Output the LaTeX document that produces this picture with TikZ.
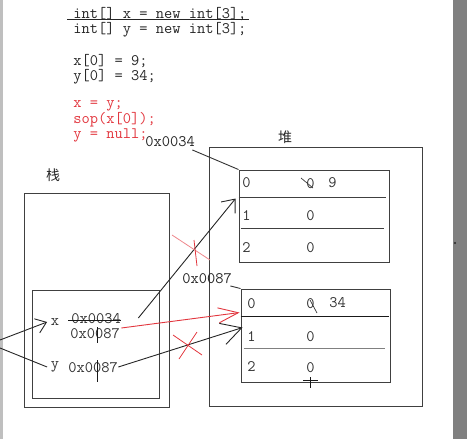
\documentclass[tikz,border=0pt]{standalone}
\usepackage{fontspec}
\newfontfamily\cjk{Noto Sans CJK SC}
\usetikzlibrary{arrows.meta,positioning,calc}
\definecolor{codered}{RGB}{226,54,62}
\definecolor{bargray}{RGB}{128,128,128}

\begin{document}
\begin{tikzpicture}[
    x=1pt, y=-1pt, line width=0.9pt,
    code/.style={font=\ttfamily\fontsize{16}{18}\selectfont, anchor=west, inner sep=0pt,
      text height=9pt, text depth=2pt, text=black!85},
    redcode/.style={code, text=codered},
    val/.style={code, text=black!80},
    lbl/.style={font=\ttfamily\fontsize{16}{18}\selectfont, text=black!80},
    hanzi/.style={font=\cjk\fontsize{14}{16}\selectfont, text=black!85},
    frame/.style={draw=black!75, inner sep=0pt},
    ptr/.style={draw=black!85, -{Straight Barb[length=11pt, width=18pt]}},
    redptr/.style={draw=codered, -{Straight Barb[length=20pt, width=15pt]}},
    cross/.style={draw=codered, line width=0.8pt}
  ]
  % window edges
  \fill[black!25] (0,0) rectangle (3,439);
  \fill[bargray] (453,0) rectangle (467,439);
  \fill[black!85] (455,243) circle (1.1);

  % source code
  \node[code] (c1) at (73,15) {int[] x = new int[3];};
  \node[code] (c2) at (73,30) {int[] y = new int[3];};
  \node[code] (c3) at (73,62) {x[0] = 9;};
  \node[code] (c4) at (73,77) {y[0] = 34;};
  \node[redcode] (c5) at (73,104) {x = y;};
  \node[redcode] (c6) at (73,120) {sop(x[0]);};
  \node[redcode] (c7) at (73,135) {y = null;};
  \draw[black!85] ($(c1.west)+(-6,4)$) -- ($(c1.east)+(2,4)$);

  % heap
  \node[hanzi] (heapt) at (285,137) {堆};
  \node[frame, minimum width=213pt, minimum height=259pt] (heap) at (315.5,276.5) {};
  \node[frame, minimum width=150pt, minimum height=92pt] (arrA) at (314,216) {};
  \node[frame, minimum width=149pt, minimum height=93pt] (arrB) at (315.5,335.5) {};
  \draw[black!75] ($(arrA.north west)+(0,28)$) -- ($(arrA.north east)+(-3,28)$);
  \draw[black!75] ($(arrA.north west)+(2,59)$) -- ($(arrA.north east)+(-5,59)$);
  \draw[black!90] ($(arrB.north west)+(0,28)$) -- ($(arrB.north east)+(-1,28)$);
  \draw[black!50] ($(arrB.north west)+(3,60)$) -- ($(arrB.north east)+(-5,60)$);

  \node[code] (h34) at (145,143) {0x0034};
  \node[code] (h87) at (182,280) {0x0087};
  \draw[black!80] ($(h34.south east)+(-3,1)$) -- (arrA.north west);
  \draw[black!80] ($(h87.south east)+(-2,0)$) -- (arrB.north west);

  % first array
  \node[val] (a0i) at (242,184) {0};
  \node[val] (a0v) at (306,185) {0};
  \node[val] (a0n) at (328,184) {9};
  \node[val] (a1i) at (242,217) {1};
  \node[val] (a1v) at (306,217) {0};
  \node[val] (a2i) at (242,249) {2};
  \node[val] (a2v) at (306,249) {0};
  \draw[black!80, line width=0.7pt] (301,178) -- (313,188);

  % second array
  \node[val] (b0i) at (247,305) {0};
  \node[val] (b0v) at (306,305) {0};
  \node[val] (b0n) at (329,304) {34};
  \node[val] (b1i) at (247,338) {1};
  \node[val] (b1v) at (306,338) {0};
  \node[val] (b2i) at (247,368) {2};
  \node[val] (b2v) at (306,369) {0};
  \draw[black!80, line width=0.7pt] (310,300) -- (317,313);
  \draw[black!90, line width=0.7pt] (303,380) -- (318,380);
  \draw[black!90, line width=0.7pt] (310,377) -- (310,388);

  % stack
  \node[hanzi] (stackt) at (53,175) {栈};
  \node[frame, minimum width=145pt, minimum height=214pt] (stack) at (96.5,300) {};
  \node[frame, minimum width=127pt, minimum height=108pt] (main) at (95.5,344) {};
  \node[lbl] (xlab) at (55,322) {x};
  \node[lbl] (ylab) at (55,367) {y};
  \node[val] (xold) at (71,320) {0x0034};
  \node[val] (xnew) at (70,335) {0x0087};
  \node[val] (ynew) at (68,369) {0x0087};
  \draw[black!90] ($(xold.west)+(-3,0)$) -- (xold.east);
  \draw[black!90, line width=0.7pt] (97,327) -- (97,343);
  \draw[black!90, line width=0.7pt] (97,360) -- (97,382);

  % references
  \coordinate (inX) at (0,340);
  \coordinate (inY) at (0,348);
  \draw[draw=black!85, -{Straight Barb[length=10pt, width=15pt]}] (inX) -- (xlab.west);
  \draw[black!85] (inY) -- (ylab.west);
  \draw[ptr] ($(xold.east)+(17,-2)$) -- ($(arrA.north west)+(-3,29)$);
  \draw[redptr] ($(xnew.east)+(1,-7)$) -- ($(arrB.north west)+(-1,24)$);
  \draw[draw=black!85, -{Straight Barb[length=20pt, width=22pt]}] ($(ynew.east)+(0,-2)$) -- ($(arrB.north west)+(2,39)$);

  % crossed out
  \draw[cross, draw=codered!60] (172,235) -- (210,260);
  \draw[cross] (194,240) -- (197,266);
  \draw[cross] (173,335) -- (202,355);
  \draw[cross] (179,359) -- (197,332);

  \pgfresetboundingbox
  \path[use as bounding box] (0,0) rectangle (467,439);
\end{tikzpicture}
\end{document}
